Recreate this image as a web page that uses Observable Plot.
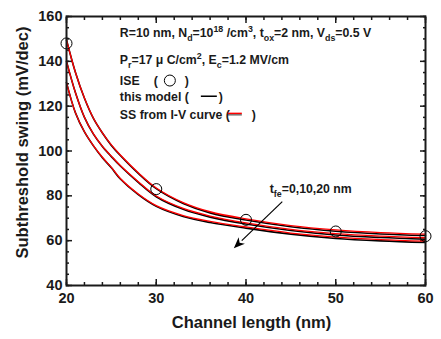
<!DOCTYPE html>
<html>
<head>
<meta charset="utf-8">
<script src="https://cdn.jsdelivr.net/npm/d3@7"></script>
<script src="https://cdn.jsdelivr.net/npm/@observablehq/plot@0.6"></script>
<style>
  html, body { margin: 0; padding: 0; background: #fff; }
  svg { display: block; }
</style>
</head>
<body>
<div id="chart"></div>
<script>
// ---- data ----
const channelLength = [20, 21, 22, 23, 24, 25, 26, 28, 30, 33, 36, 40, 45, 50, 55, 60];
// this model (black), t_fe = 0, 10, 20 nm
const model0  = [149.5, 135.0, 123.5, 114.5, 108.0, 102.5, 98.0, 90.0, 83.2, 76.6, 72.4, 69.2, 66.2, 64.2, 63.0, 62.3];
const model10 = [140.0, 126.0, 115.0, 107.5, 102.0, 97.5, 93.3, 86.0, 79.6, 74.0, 70.5, 67.4, 64.5, 62.5, 61.4, 60.7];
const model20 = [130.5, 117.0, 108.5, 102.3, 97.0, 92.5, 87.5, 80.5, 75.3, 70.8, 68.1, 65.6, 62.9, 61.0, 59.9, 59.2];
// SS from I-V curve (red)
const iv0  = [149.5, 135.0, 123.6, 114.6, 108.1, 102.7, 98.2, 90.3, 83.5, 77.0, 72.9, 69.7, 66.7, 64.8, 63.6, 62.9];
const iv10 = [140.0, 126.0, 115.1, 107.6, 102.1, 97.7, 93.5, 86.3, 79.9, 74.4, 71.0, 67.9, 65.0, 63.1, 62.0, 61.3];
const iv20 = [130.5, 117.0, 108.6, 102.4, 97.2, 92.7, 87.7, 80.8, 75.6, 71.2, 68.6, 66.1, 63.4, 61.6, 60.5, 59.8];
// ISE simulation (circles)
const iseLength = [20, 30, 40, 50, 60];
const iseSS = [148, 83, 69.3, 64.1, 62];
// ticks
const xMajor = [20, 30, 40, 50, 60];
const xMinor = d3.range(20, 61, 2);
const yMajor = [40, 60, 80, 100, 120, 140, 160];
const yMinor = d3.range(40, 161, 5);
// annotation anchors (data units)
const legendX = 26.0;
const legendY = [150.5, 138.6, 129.2, 122.2, 114.1];
const arrowFrom = [44.1, 77.2];
const arrowTo = [38.7, 56.4];
const tfeLabel = [42.7, 80.9];

const series = (vals) => channelLength.map((L, i) => ({L, v: vals[i]}));
const black = [model0, model10, model20];
const red = [iv0, iv10, iv20];
const ise = iseLength.map((L, i) => ({L, v: iseSS[i]}));

const ink = "#1a1a1a";
const font = "'Liberation Sans', Arial, sans-serif";

const plot = Plot.plot({
  width: 441,
  height: 339,
  marginLeft: 66,
  marginRight: 16,
  marginTop: 16,
  marginBottom: 54,
  style: {fontFamily: font, fontWeight: "bold", color: ink, background: "#fff"},
  x: {domain: [20, 60]},
  y: {domain: [40, 160]},
  marks: [
    Plot.axisX({anchor: "bottom", ticks: xMajor, tickSize: -6, tickPadding: 13, tickFormat: d3.format("d"), fontSize: 14.5, label: null, strokeWidth: 1.5}),
    Plot.axisX({anchor: "bottom", ticks: xMinor, tickSize: -3, text: null, label: null, strokeWidth: 1.5}),
    Plot.axisX({anchor: "top", ticks: xMajor, tickSize: -6, text: null, label: null, strokeWidth: 1.5}),
    Plot.axisX({anchor: "top", ticks: xMinor, tickSize: -3, text: null, label: null, strokeWidth: 1.5}),
    Plot.axisY({anchor: "left", ticks: yMajor, tickSize: -6, tickPadding: 10, tickFormat: d3.format("d"), fontSize: 14.5, label: null, strokeWidth: 1.5}),
    Plot.axisY({anchor: "left", ticks: yMinor, tickSize: -3, text: null, label: null, strokeWidth: 1.5}),
    Plot.axisY({anchor: "right", ticks: yMajor, tickSize: -6, text: null, label: null, strokeWidth: 1.5}),
    Plot.axisY({anchor: "right", ticks: yMinor, tickSize: -3, text: null, label: null, strokeWidth: 1.5}),
    ...black.map(s => Plot.line(series(s), {x: "L", y: "v", stroke: "#000", strokeWidth: 1.6, curve: "catmull-rom"})),
    ...red.map(s => Plot.line(series(s), {x: "L", y: "v", stroke: "#ff0000", strokeWidth: 1.3, curve: "catmull-rom"})),
    Plot.dot(ise, {x: "L", y: "v", r: 5.5, stroke: "#000", strokeWidth: 1, fill: "none"}),
    Plot.frame({stroke: ink, strokeWidth: 2})
  ]
});
document.getElementById("chart").appendChild(plot);

// ---- annotations drawn with the plot's own scales ----
const sx = plot.scale("x"), sy = plot.scale("y");
const X = v => sx.apply(v), Y = v => sy.apply(v);
const svg = d3.select(plot);
const g = svg.append("g").attr("font-family", font).attr("font-weight", "bold").attr("fill", ink).attr("text-anchor", "start");
const FS = 12.3;

function rich(x, y, parts, size = FS) {
  const t = g.append("text").attr("x", x).attr("y", y).attr("font-size", size).attr("text-anchor", "start");
  let shift = 0;
  for (const [s, kind] of parts) {
    const target = kind === "sup" ? -5 : kind === "sub" ? 4 : 0;
    t.append("tspan")
      .attr("dy", target - shift)
      .attr("font-size", kind ? size * 0.72 : size)
      .text(s);
    shift = target;
  }
  return t;
}

const lx = X(legendX);
rich(lx, Y(legendY[0]), [["R=10 nm, N"], ["d", "sub"], ["=10"], ["18", "sup"], [" /cm"], ["3", "sup"], [", t"], ["ox", "sub"], ["=2 nm, V"], ["ds", "sub"], ["=0.5 V"]]);
rich(lx, Y(legendY[1]), [["P"], ["r", "sub"], ["=17\u00a0"], ["\u03bc"], ["\u00a0C/cm"], ["2", "sup"], [", E"], ["c", "sub"], ["=1.2 MV/cm"]]);
// ISE row
let yb = Y(legendY[2]);
rich(lx, yb, [["ISE"]]);
rich(lx + 34, yb, [["("]]);
g.append("circle").attr("cx", lx + 50).attr("cy", yb - 4.5).attr("r", 5.5).attr("fill", "none").attr("stroke", "#000").attr("stroke-width", 1);
rich(lx + 65, yb, [[")"]]);
// model row
yb = Y(legendY[3]);
rich(lx, yb, [["this model ("]]);
g.append("line").attr("x1", lx + 81).attr("x2", lx + 97).attr("y1", yb - 4.5).attr("y2", yb - 4.5).attr("stroke", "#000").attr("stroke-width", 1.5);
rich(lx + 99, yb, [[")"]]);
// I-V row
yb = Y(legendY[4]);
rich(lx, yb, [["SS from I-V curve ("]]);
g.append("line").attr("x1", lx + 108).attr("x2", lx + 122).attr("y1", yb - 5.5).attr("y2", yb - 5.5).attr("stroke", "#ff0000").attr("stroke-width", 1.5);
g.append("line").attr("x1", lx + 108).attr("x2", lx + 122).attr("y1", yb - 4).attr("y2", yb - 4).attr("stroke", "#000").attr("stroke-width", 0.8);
rich(lx + 132, yb, [[")"]]);

rich(X(tfeLabel[0]), Y(tfeLabel[1]), [["t"], ["fe", "sub"], ["=0,10,20 nm"]]);

// arrow
const ax1 = X(arrowFrom[0]), ay1 = Y(arrowFrom[1]), ax2 = X(arrowTo[0]), ay2 = Y(arrowTo[1]);
const ang = Math.atan2(ay2 - ay1, ax2 - ax1);
const hl = 11, hw = 4.5;
const bx = ax2 - hl * Math.cos(ang), by = ay2 - hl * Math.sin(ang);
g.append("line").attr("x1", ax1).attr("y1", ay1).attr("x2", bx).attr("y2", by).attr("stroke", "#000").attr("stroke-width", 1.2);
g.append("path")
  .attr("d", `M${ax2},${ay2}L${bx + hw * Math.sin(ang)},${by - hw * Math.cos(ang)}L${bx + 3 * Math.cos(ang)},${by + 3 * Math.sin(ang)}L${bx - hw * Math.sin(ang)},${by + hw * Math.cos(ang)}Z`)
  .attr("fill", "#000");

// axis titles
const [r0, r1] = sx.range;
g.append("text").attr("x", (r0 + r1) / 2 + 6).attr("y", 328).attr("text-anchor", "middle").attr("font-size", 16.5).text("Channel length (nm)");
g.append("text").attr("transform", `translate(28,${(Y(40) + Y(160)) / 2 - 8}) rotate(-90)`).attr("text-anchor", "middle").attr("font-size", 16.5).text("Subthreshold swing (mV/dec)");
</script>
</body>
</html>
